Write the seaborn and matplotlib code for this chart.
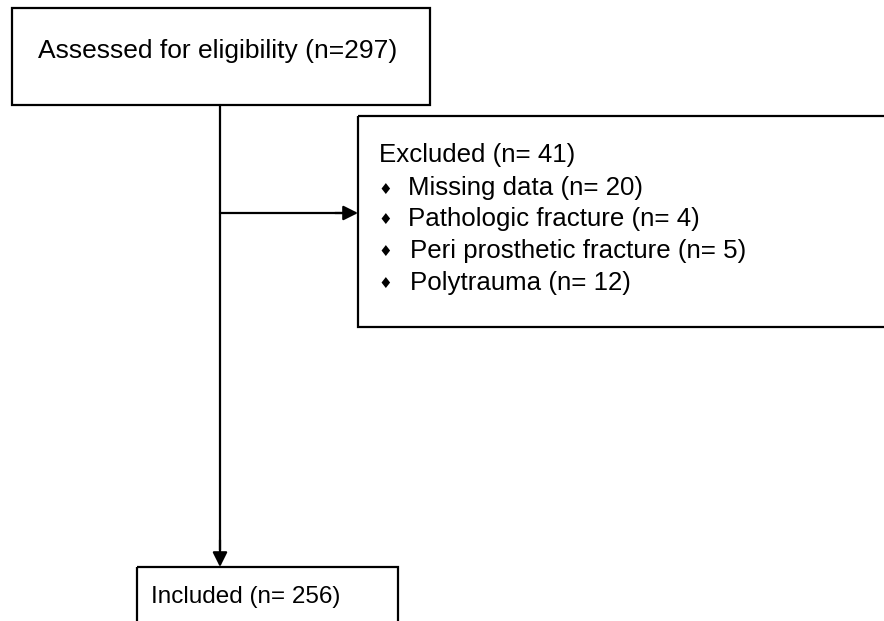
import matplotlib
matplotlib.use("Agg")
import matplotlib.pyplot as plt
from matplotlib.patches import Rectangle
import seaborn as sns

# ---- data ----
assessed_label = "Assessed for eligibility"
assessed_n = 297
excluded_label = "Excluded"
excluded_n = 41
reasons = ["Missing data", "Pathologic fracture", "Peri prosthetic fracture", "Polytrauma"]
reason_n = [20, 4, 5, 12]
included_label = "Included"
included_n = 256

sns.set_theme(style="white")
plt.rcParams['font.family'] = ['Liberation Sans', 'DejaVu Sans']
plt.rcParams['text.color'] = 'black'

W, H = 884, 621
fig = plt.figure(figsize=(W / 100, H / 100), dpi=100)
ax = fig.add_axes([0, 0, 1, 1])
ax.set_xlim(0, W)
ax.set_ylim(H, 0)
ax.axis('off')

lw = 1.6
fs = 19
fs_ex = 18.6

def box(x0, y0, x1, y1):
    ax.add_patch(Rectangle((x0, y0), x1 - x0, y1 - y0, fill=False,
                           edgecolor='black', linewidth=lw, clip_on=True))

# top box
box(12, 8, 430, 105)
ax.text(218, 51, f"{assessed_label} (n={assessed_n})", ha='center', va='center', fontsize=fs, color='black')

# excluded box
box(358, 116, 900, 327)
ax.text(379, 155, f"{excluded_label} (n= {excluded_n})", ha='left', va='center', fontsize=fs_ex, color='black')
ys = [188, 219, 251, 283]
xs = [408, 408, 410, 410]
for y, x, r, n in zip(ys, xs, reasons, reason_n):
    ax.text(385, y + 1, "\u2666", ha='center', va='center', fontsize=11,
            family=['DejaVu Sans'], color='black')
    ax.text(x, y, f"{r} (n= {n})", ha='left', va='center', fontsize=fs_ex, color='black')

# included box
box(137, 567, 398, 660)
ax.text(151, 597, f"{included_label} (n= {included_n})", ha='left', va='center', fontsize=17.5, color='black')

# connectors
ax.plot([220, 220], [105, 550], color='black', lw=lw)
ax.annotate("", xy=(220, 567), xytext=(220, 540),
            arrowprops=dict(arrowstyle='-|>', color='black', lw=lw, mutation_scale=22, shrinkA=0, shrinkB=0))
ax.plot([220, 345], [213, 213], color='black', lw=lw)
ax.annotate("", xy=(358, 213), xytext=(335, 213),
            arrowprops=dict(arrowstyle='-|>', color='black', lw=lw, mutation_scale=22, shrinkA=0, shrinkB=0))

fig.savefig("out.png", dpi=100, facecolor='white')
